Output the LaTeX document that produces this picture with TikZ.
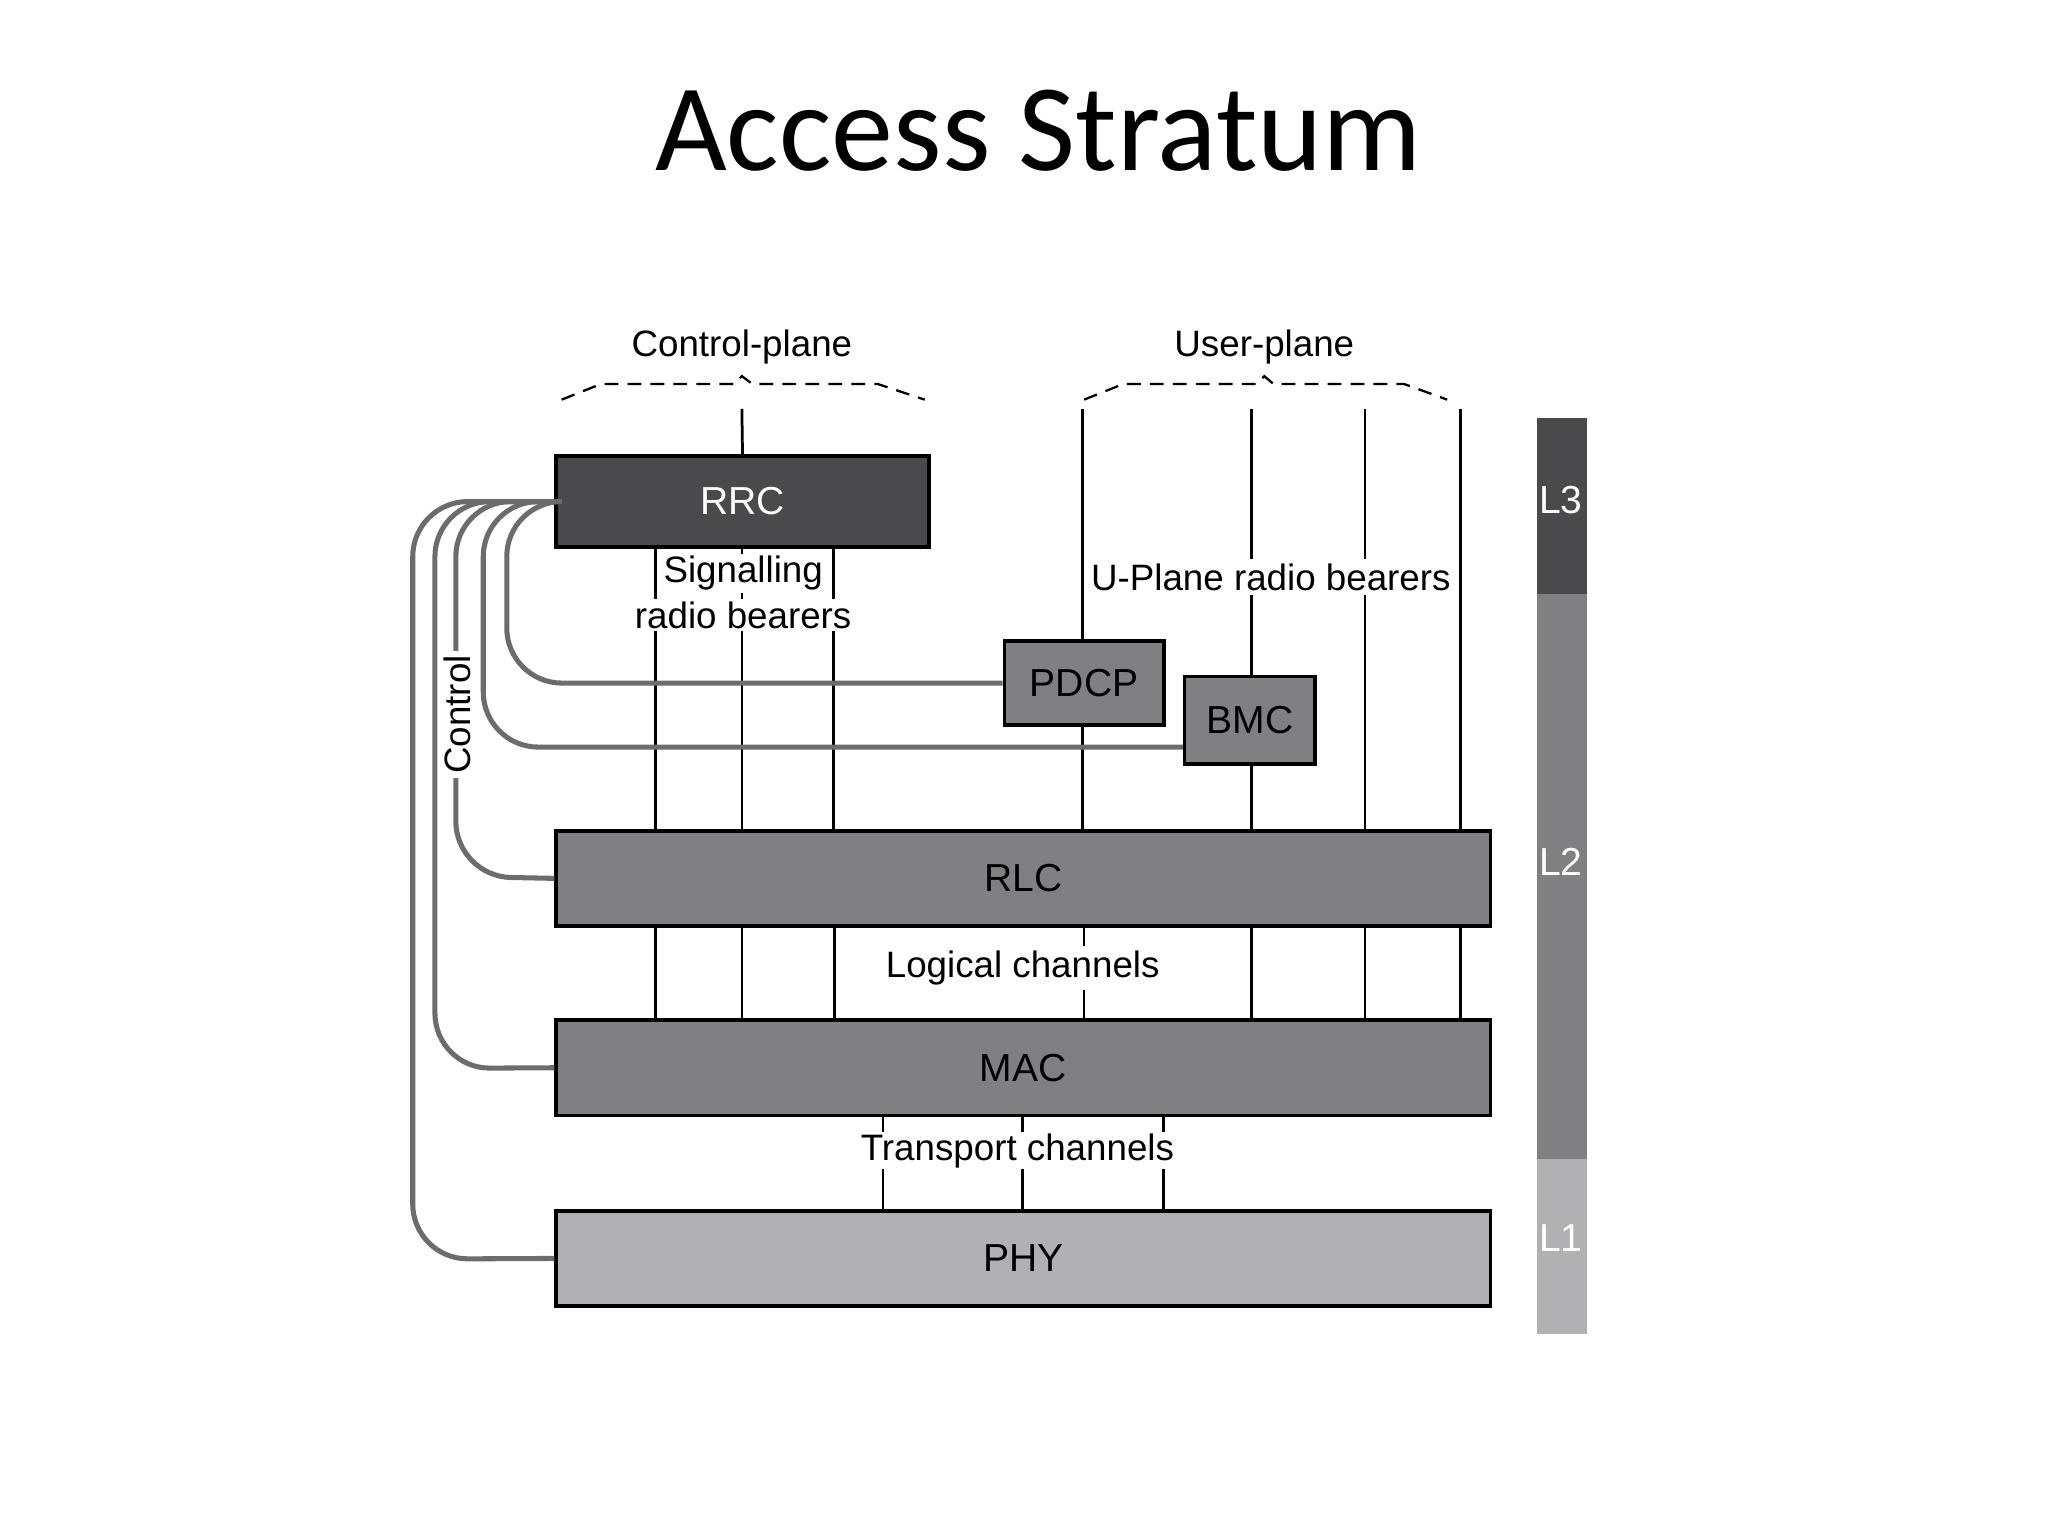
\documentclass[tikz,border=0pt]{standalone}
\usepackage{fontspec}
\setmainfont{Liberation Sans}
\newfontfamily\titlefont{Carlito}
\begin{document}
\begin{tikzpicture}[x=0.01cm,y=-0.01cm,
  box/.style={draw=black,line width=0.8pt,inner sep=0pt,font=\fontsize{8.5}{10}\selectfont},
  dark/.style={box,fill=rrcgray,text=white},
  mid/.style={box,fill=midgray},
  light/.style={box,fill=lightgray},
  ln/.style={line width=0.6pt},
  ctl/.style={draw=gray!85!black,line width=1.1pt,rounded corners=12pt},
  lbl/.style={fill=white,inner sep=1pt,font=\fontsize{8}{9.5}\selectfont},
  barlbl/.style={text=white,font=\fontsize{8.5}{10}\selectfont},
  brace/.style={line width=0.5pt,dash pattern=on 3pt off 2pt}]
\definecolor{rrcgray}{HTML}{4A494B}
\definecolor{midgray}{HTML}{807F81}
\definecolor{lightgray}{HTML}{B1B0B2}
\useasboundingbox (0,0) rectangle (1568,1176);
\node (title) at (795,100) {\titlefont\fontsize{27}{32}\selectfont Access Stratum};
% boxes
\node[dark,minimum width=2.85cm,minimum height=0.70cm] (RRC) at (568.5,384) {RRC};
\node[mid,minimum width=1.22cm,minimum height=0.64cm] (PDCP) at (830,523) {PDCP};
\node[mid,minimum width=1.00cm,minimum height=0.67cm] (BMC) at (957,551.5) {BMC};
\node[mid,minimum width=7.15cm,minimum height=0.73cm] (RLC) at (783.5,672.5) {RLC};
\node[mid,minimum width=7.15cm,minimum height=0.73cm] (MAC) at (783.5,817.5) {MAC};
\node[light,minimum width=7.15cm,minimum height=0.73cm] (PHY) at (783.5,963.5) {PHY};
% layer bar
\fill[rrcgray] (1177,320) rectangle (1215,455);
\fill[midgray] (1177,455) rectangle (1215,887);
\fill[lightgray] (1177,887) rectangle (1215,1021);
\node[barlbl] (L3) at (1195,383) {L3};
\node[barlbl] (L2) at (1195,660) {L2};
\node[barlbl] (L1) at (1195,948) {L1};
% vertical lines
\draw[ln] (568,313) -- (RRC.north);
\foreach \x in {502,568,638} \draw[ln] (\x,0 |- RRC.south) -- (\x,0 |- RLC.north);
\foreach \x in {502,568,639,830,958,1045,1118} \draw[ln] (\x,0 |- RLC.south) -- (\x,0 |- MAC.north);
\foreach \x in {676,783,891} \draw[ln] (\x,0 |- MAC.south) -- (\x,0 |- PHY.north);
\draw[ln] (829,313) -- (829,0 |- PDCP.north);
\draw[ln] (829,0 |- PDCP.south) -- (829,0 |- RLC.north);
\draw[ln] (958,313) -- (958,0 |- BMC.north);
\draw[ln] (958,0 |- BMC.south) -- (958,0 |- RLC.north);
\foreach \x in {1045,1118} \draw[ln] (\x,313) -- (\x,0 |- RLC.north);
% braces
\draw[brace] (430,306) -- (460,294) -- (562,294) -- (568,288) -- (576,294) -- (672,294) -- (708,306);
\draw[brace] (830,306) -- (860,294) -- (962,294) -- (968,288) -- (975,294) -- (1075,294) -- (1108,306);
\node[font=\fontsize{8}{9.5}\selectfont] (cp) at (568,266) {Control-plane};
\node[font=\fontsize{8}{9.5}\selectfont] (up) at (968,266) {User-plane};
% control lines
\draw[ctl] (RRC.west) -- (388,384) -- (388,523) -- (PDCP.west);
\draw[ctl] (RRC.west) -- (370,384) -- (370,572) -- (BMC.west |- 0,572);
\draw[ctl] (RRC.west) -- (349,384) -- (349,671) -- (RLC.west);
\draw[ctl] (RRC.west) -- (333,384) -- (333,818) -- (MAC.west);
\draw[ctl] (RRC.west) -- (316,384) -- (316,964) -- (PHY.west);
\node[lbl,rotate=90] (ctrl) at (350,547) {Control};
% labels
\node[lbl,inner sep=0.5pt] (srb1) at (569,439) {Signalling};
\node[lbl,inner sep=0.5pt] (srb2) at (569,471) {radio bearers};
\node[lbl] (upl) at (973,442) {U-Plane radio bearers};
\node[lbl] (lc) at (783,741) {Logical channels};
\node[lbl,inner sep=0.3pt] (tc) at (779,881) {Transport channels};
\end{tikzpicture}
\end{document}
